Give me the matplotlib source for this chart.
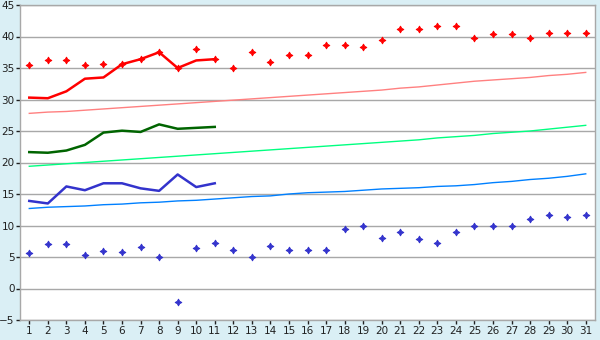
import matplotlib
matplotlib.use("Agg")
import matplotlib.pyplot as plt
import numpy as np

days = list(range(1, 32))

max_obs = [35.5, 36.2, 36.2, 35.5, 35.7, 35.7, 36.4, 37.5, 35.0, 38.0, 36.4, 35.0, 37.5, 35.9, 37.0,
           37.0, 38.7, 38.7, 38.3, 39.5, 41.2, 41.2, 41.6, 41.6, 39.8, 40.4, 40.4, 39.8, 40.6, 40.6, 40.6]
min_obs = [5.65, 7.1, 7.1, 5.3, 5.95, 5.8, 6.6, 5.0, -2.1, 6.45, 7.25, 6.1, 5.0, 6.8, 6.1,
           6.1, 6.1, 9.5, 10.0, 8.0, 8.9, 7.8, 7.2, 8.9, 10.0, 10.0, 10.0, 11.1, 11.7, 11.3, 11.7]

line_days = list(range(1, 12))
max_line = [30.3, 30.2, 31.3, 33.3, 33.5, 35.6, 36.4, 37.5, 35.0, 36.2, 36.4]
mean_line = [21.65, 21.55, 21.9, 22.8, 24.75, 25.05, 24.85, 26.05, 25.35, 25.5, 25.65]
min_line = [13.9, 13.5, 16.2, 15.6, 16.7, 16.7, 15.9, 15.5, 18.1, 16.1, 16.7]

max_norm = [27.8, 28.0, 28.1, 28.3, 28.5, 28.7, 28.9, 29.1, 29.3, 29.5, 29.7, 29.9, 30.1, 30.3, 30.5,
            30.7, 30.9, 31.1, 31.3, 31.5, 31.8, 32.0, 32.3, 32.6, 32.9, 33.1, 33.3, 33.5, 33.8, 34.0, 34.3]
mean_norm = [19.4, 19.6, 19.8, 20.0, 20.2, 20.4, 20.6, 20.8, 21.0, 21.2, 21.4, 21.6, 21.8, 22.0, 22.2,
             22.4, 22.6, 22.8, 23.0, 23.2, 23.4, 23.6, 23.9, 24.1, 24.3, 24.6, 24.8, 25.0, 25.3, 25.6, 25.9]
min_norm = [12.7, 12.9, 13.0, 13.1, 13.3, 13.4, 13.6, 13.7, 13.9, 14.0, 14.2, 14.4, 14.6, 14.7, 15.0,
            15.2, 15.3, 15.4, 15.6, 15.8, 15.9, 16.0, 16.2, 16.3, 16.5, 16.8, 17.0, 17.3, 17.5, 17.8, 18.2]

yticks = list(range(-5, 50, 5))

bg = "#DAEFF5"
fig = plt.figure(figsize=(6, 3.4), dpi=100, facecolor=bg)
ax = fig.add_axes([20/600, 1-320/340, 575/600, 315/340])
ax.set_facecolor("white")

for v in yticks:
    ax.axhline(v, color="#A8A8A8", lw=1.0, zorder=1)

ax.plot(days, max_norm, color="#FF8080", lw=1.0, zorder=2)
ax.plot(days, mean_norm, color="#00FF80", lw=1.0, zorder=2)
ax.plot(days, min_norm, color="#0080FF", lw=1.0, zorder=2)

ax.plot(line_days, max_line, color="#FF0000", lw=1.8, zorder=3)
ax.plot(line_days, mean_line, color="#006400", lw=1.8, zorder=3)
ax.plot(line_days, min_line, color="#3333CC", lw=1.8, zorder=3)

star = (4, 1, 0)
ax.plot(days, max_obs, ls="none", marker=star, ms=5, color="#FF0000", mec="#FF0000", mew=0.6, zorder=4)
ax.plot(days, min_obs, ls="none", marker=star, ms=5, color="#3333CC", mec="#3333CC", mew=0.6, zorder=4)

ax.set_xlim(0.5, 31.5)
ax.set_ylim(-5, 45)
ax.set_xticks(days)
ax.set_xticklabels([str(d) for d in days])
ax.set_yticks(yticks)
ax.set_yticklabels([str(v).replace("-", "\u2212") for v in yticks])
ax.tick_params(axis="both", direction="out", length=3, width=1, color="#202020",
               labelsize=7.5, labelcolor="#202020", pad=1.5)
ax.tick_params(axis="y", pad=0.8)
for side in ["left", "bottom", "right", "top"]:
    ax.spines[side].set_color("#A8A8A8")
    ax.spines[side].set_linewidth(1.0)

fig.savefig("out.png", dpi=100, facecolor=bg)
